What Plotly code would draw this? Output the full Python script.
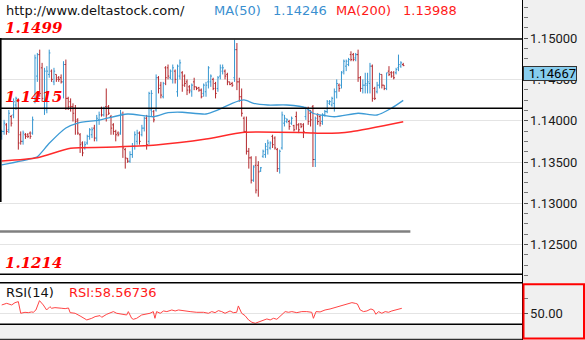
import plotly.graph_objects as go

# ---------------- price bars (O / H / L / C) ----------------
open_ = [1.1381, 1.1387, 1.1395, 1.1389, 1.1405, 1.1407, 1.1419, 1.1425, 1.1383, 1.1375,
         1.1383, 1.1383, 1.1385, 1.1385, 1.1423, 1.1454, 1.1480, 1.1464, 1.1415, 1.1413,
         1.1456, 1.1460, 1.1447, 1.1456, 1.1452, 1.1452, 1.1447, 1.1468, 1.1427, 1.1423,
         1.1417, 1.1415, 1.1401, 1.1383, 1.1373, 1.1367, 1.1373, 1.1381, 1.1383, 1.1391,
         1.1379, 1.1401, 1.1415, 1.1407, 1.1417, 1.1417, 1.1405, 1.1395, 1.1387, 1.1385,
         1.1385, 1.1407, 1.1365, 1.1354, 1.1351, 1.1359, 1.1369, 1.1375, 1.1385, 1.1383,
         1.1391, 1.1403, 1.1375, 1.1413, 1.1411, 1.1413, 1.1452, 1.1443, 1.1429, 1.1464,
         1.1464, 1.1452, 1.1450, 1.1460, 1.1435, 1.1454, 1.1458, 1.1454, 1.1447, 1.1441,
         1.1435, 1.1447, 1.1441, 1.1440, 1.1437, 1.1433, 1.1435, 1.1447, 1.1447, 1.1450,
         1.1445, 1.1439, 1.1454, 1.1460, 1.1460, 1.1456, 1.1447, 1.1445, 1.1452, 1.1486,
         1.1447, 1.1429, 1.1403, 1.1387, 1.1363, 1.1355, 1.1328, 1.1346, 1.1346, 1.1339,
         1.1357, 1.1359, 1.1365, 1.1367, 1.1381, 1.1379, 1.1365, 1.1342, 1.1367, 1.1397,
         1.1399, 1.1399, 1.1397, 1.1394, 1.1405, 1.1395, 1.1396, 1.1395, 1.1405, 1.1415,
         1.1409, 1.1417, 1.1353, 1.1407, 1.1405, 1.1399, 1.1407, 1.1411, 1.1421, 1.1419,
         1.1421, 1.1435, 1.1443, 1.1443, 1.1460, 1.1466, 1.1468, 1.1480, 1.1480, 1.1476,
         1.1480, 1.1452, 1.1439, 1.1443, 1.1443, 1.1445, 1.1466, 1.1439, 1.1435, 1.1443,
         1.1456, 1.1443, 1.1439, 1.1460, 1.1458, 1.1458, 1.1458, 1.1464, 1.1466, 1.1468]
high = [1.1389, 1.1401, 1.1397, 1.1413, 1.1407, 1.1427, 1.1429, 1.1427, 1.1387, 1.1388,
        1.1385, 1.1385, 1.1387, 1.1405, 1.1480, 1.1482, 1.1486, 1.1470, 1.1464, 1.1466,
        1.1486, 1.1462, 1.1464, 1.1456, 1.1454, 1.1456, 1.1472, 1.1474, 1.1429, 1.1427,
        1.1421, 1.1419, 1.1403, 1.1385, 1.1375, 1.1375, 1.1383, 1.1391, 1.1392, 1.1395,
        1.1407, 1.1411, 1.1417, 1.1417, 1.1439, 1.1419, 1.1407, 1.1397, 1.1389, 1.1387,
        1.1413, 1.1411, 1.1367, 1.1355, 1.1363, 1.1373, 1.1387, 1.1389, 1.1387, 1.1395,
        1.1405, 1.1407, 1.1435, 1.1437, 1.1413, 1.1456, 1.1454, 1.1447, 1.1447, 1.1466,
        1.1468, 1.1462, 1.1468, 1.1462, 1.1468, 1.1474, 1.1460, 1.1456, 1.1450, 1.1443,
        1.1445, 1.1452, 1.1441, 1.1441, 1.1439, 1.1445, 1.1447, 1.1466, 1.1456, 1.1452,
        1.1447, 1.1454, 1.1468, 1.1468, 1.1462, 1.1458, 1.1447, 1.1447, 1.1498, 1.1494,
        1.1452, 1.1439, 1.1405, 1.1405, 1.1367, 1.1357, 1.1346, 1.1357, 1.1351, 1.1344,
        1.1365, 1.1373, 1.1377, 1.1375, 1.1383, 1.1381, 1.1367, 1.1365, 1.1411, 1.1407,
        1.1403, 1.1401, 1.1405, 1.1395, 1.1411, 1.1397, 1.1397, 1.1397, 1.1417, 1.1417,
        1.1413, 1.1419, 1.1405, 1.1409, 1.1407, 1.1409, 1.1413, 1.1425, 1.1425, 1.1429,
        1.1439, 1.1450, 1.1445, 1.1460, 1.1474, 1.1474, 1.1476, 1.1484, 1.1482, 1.1482,
        1.1486, 1.1454, 1.1450, 1.1458, 1.1458, 1.1470, 1.1468, 1.1441, 1.1447, 1.1458,
        1.1456, 1.1443, 1.1458, 1.1466, 1.1460, 1.1460, 1.1464, 1.1480, 1.1472, 1.1470]
low = [1.1377, 1.1383, 1.1383, 1.1385, 1.1393, 1.1403, 1.1413, 1.1365, 1.1371, 1.1371,
       1.1378, 1.1379, 1.1378, 1.1383, 1.1421, 1.1447, 1.1429, 1.1423, 1.1407, 1.1409,
       1.1452, 1.1447, 1.1443, 1.1447, 1.1447, 1.1445, 1.1427, 1.1413, 1.1413, 1.1411,
       1.1399, 1.1383, 1.1383, 1.1361, 1.1357, 1.1365, 1.1371, 1.1377, 1.1379, 1.1375,
       1.1375, 1.1395, 1.1405, 1.1405, 1.1399, 1.1407, 1.1383, 1.1383, 1.1375, 1.1381,
       1.1383, 1.1355, 1.1342, 1.1349, 1.1349, 1.1355, 1.1365, 1.1371, 1.1371, 1.1381,
       1.1387, 1.1365, 1.1371, 1.1405, 1.1398, 1.1411, 1.1433, 1.1427, 1.1427, 1.1443,
       1.1450, 1.1450, 1.1445, 1.1445, 1.1429, 1.1450, 1.1435, 1.1441, 1.1431, 1.1433,
       1.1429, 1.1437, 1.1437, 1.1435, 1.1427, 1.1429, 1.1429, 1.1439, 1.1441, 1.1437,
       1.1427, 1.1435, 1.1450, 1.1456, 1.1450, 1.1443, 1.1443, 1.1441, 1.1447, 1.1437,
       1.1423, 1.1405, 1.1385, 1.1359, 1.1342, 1.1324, 1.1326, 1.1312, 1.1308, 1.1338,
       1.1355, 1.1355, 1.1359, 1.1365, 1.1367, 1.1365, 1.1338, 1.1336, 1.1365, 1.1393,
       1.1397, 1.1389, 1.1395, 1.1387, 1.1389, 1.1385, 1.1391, 1.1379, 1.1401, 1.1395,
       1.1393, 1.1344, 1.1344, 1.1395, 1.1393, 1.1395, 1.1405, 1.1409, 1.1419, 1.1417,
       1.1411, 1.1427, 1.1435, 1.1439, 1.1456, 1.1460, 1.1466, 1.1472, 1.1472, 1.1472,
       1.1447, 1.1435, 1.1433, 1.1433, 1.1433, 1.1433, 1.1423, 1.1425, 1.1433, 1.1439,
       1.1439, 1.1437, 1.1437, 1.1454, 1.1452, 1.1450, 1.1456, 1.1460, 1.1464, 1.1466]
close = [1.1387, 1.1397, 1.1387, 1.1409, 1.1397, 1.1423, 1.1427, 1.1373, 1.1375, 1.1385,
         1.1381, 1.1381, 1.1381, 1.1401, 1.1476, 1.1480, 1.1433, 1.1427, 1.1460, 1.1460,
         1.1482, 1.1450, 1.1460, 1.1450, 1.1450, 1.1447, 1.1468, 1.1427, 1.1417, 1.1417,
         1.1409, 1.1399, 1.1385, 1.1371, 1.1361, 1.1371, 1.1381, 1.1389, 1.1389, 1.1379,
         1.1403, 1.1407, 1.1407, 1.1415, 1.1407, 1.1409, 1.1391, 1.1387, 1.1383, 1.1383,
         1.1409, 1.1367, 1.1355, 1.1351, 1.1359, 1.1369, 1.1383, 1.1385, 1.1375, 1.1391,
         1.1403, 1.1371, 1.1433, 1.1433, 1.1401, 1.1452, 1.1439, 1.1431, 1.1445, 1.1452,
         1.1454, 1.1460, 1.1464, 1.1450, 1.1466, 1.1470, 1.1443, 1.1445, 1.1437, 1.1437,
         1.1443, 1.1441, 1.1439, 1.1437, 1.1429, 1.1443, 1.1443, 1.1464, 1.1454, 1.1439,
         1.1433, 1.1452, 1.1464, 1.1464, 1.1454, 1.1447, 1.1444, 1.1443, 1.1486, 1.1447,
         1.1429, 1.1409, 1.1387, 1.1363, 1.1355, 1.1328, 1.1344, 1.1316, 1.1338, 1.1343,
         1.1363, 1.1369, 1.1373, 1.1373, 1.1371, 1.1367, 1.1342, 1.1363, 1.1407, 1.1403,
         1.1401, 1.1393, 1.1403, 1.1389, 1.1395, 1.1389, 1.1393, 1.1387, 1.1415, 1.1399,
         1.1401, 1.1353, 1.1403, 1.1399, 1.1397, 1.1407, 1.1411, 1.1423, 1.1423, 1.1427,
         1.1435, 1.1445, 1.1439, 1.1458, 1.1472, 1.1472, 1.1474, 1.1474, 1.1474, 1.1480,
         1.1452, 1.1439, 1.1443, 1.1445, 1.1447, 1.1466, 1.1427, 1.1427, 1.1443, 1.1456,
         1.1443, 1.1439, 1.1458, 1.1456, 1.1454, 1.1452, 1.1462, 1.1468, 1.1470, 1.14667]
bar_index = list(range(len(close)))

# ---------------- moving averages (sampled at bar positions) ----------------
ma50_x = [0, 13, 15, 20, 27, 32, 41, 53, 64, 70, 76, 86, 91, 97, 102, 106, 112, 120,
          128, 131, 140, 150, 158, 164, 169]
ma50 = [1.13464, 1.13545, 1.13564, 1.13726, 1.13912, 1.13972, 1.14008, 1.14081, 1.14048,
        1.14097, 1.14102, 1.14081, 1.14130, 1.14211, 1.14251, 1.14211, 1.14190, 1.14190,
        1.14157, 1.14090, 1.14048, 1.14090, 1.14069, 1.14150, 1.14246]
ma200_x = [0, 15, 29, 44, 65, 86, 102, 128, 136, 147, 169]
ma200 = [1.13512, 1.13552, 1.13666, 1.13678, 1.13706, 1.13778, 1.13860, 1.13855,
         1.13847, 1.13867, 1.13988]

# ---------------- RSI(14) ----------------
rsi_x = [0, 2.1, 4.2, 5.6, 7.0, 8.0, 9.8, 11.2, 12.6, 13.3, 14.4, 15.9, 17.5, 18.9, 20.3,
         21.0, 22.4, 23.8, 25.3, 26.7, 28.1, 28.8, 30.9, 33.0, 35.8, 37.9, 39.3, 41.4, 42.1,
         44.2, 45.6, 47.0, 48.4, 50.5, 52.6, 53.3, 54.7, 55.4, 56.8, 58.9, 61.0, 62.4, 63.8,
         64.5, 65.2, 66.7, 68.1, 69.5, 71.6, 73.0, 74.4, 75.8, 77.2, 79.3, 82.1, 84.9, 87.0,
         88.4, 89.8, 91.2, 92.6, 94.0, 96.1, 97.5, 98.9, 99.6, 101.0, 102.4, 103.9, 105.3,
         106.7, 108.1, 110.2, 111.6, 113.0, 114.4, 115.8, 117.9, 119.3, 120.7, 122.1, 124.2,
         126.3, 128.4, 130.5, 131.2, 132.3, 134.0, 136.1, 138.2, 140.3, 141.7, 143.8, 146.0,
         147.4, 148.8, 149.7, 150.9, 152.3, 153.7, 155.4, 156.5, 157.5, 158.6, 160.0, 161.4,
         162.8, 164.2, 165.6, 167.0, 168.4]
rsi = [64.3, 67.1, 64.3, 68.3, 70.0, 50.0, 51.7, 51.1, 52.3, 51.7, 55.7, 71.7, 64.3, 55.7,
       61.4, 58.6, 59.7, 58.6, 58.6, 58.0, 59.1, 51.1, 50.0, 45.4, 38.6, 41.4, 44.3, 46.0,
       43.1, 48.3, 50.0, 52.9, 50.0, 48.3, 47.1, 52.9, 41.4, 39.7, 41.4, 47.1, 48.3, 50.0,
       52.9, 41.4, 52.9, 50.0, 54.0, 52.9, 55.7, 54.0, 55.7, 54.6, 54.6, 52.9, 51.7, 51.7,
       50.0, 52.9, 51.1, 54.6, 52.9, 50.0, 54.0, 51.1, 51.7, 62.6, 50.0, 46.0, 38.6, 34.6,
       32.9, 35.1, 38.6, 40.3, 38.6, 41.4, 39.7, 47.1, 52.9, 51.7, 52.9, 51.1, 52.9, 52.9,
       51.7, 41.4, 52.9, 52.3, 55.7, 57.4, 59.7, 61.4, 64.3, 67.1, 68.3, 67.1, 66.0, 55.7,
       52.9, 54.0, 57.4, 55.7, 48.3, 52.9, 50.0, 52.9, 51.7, 54.0, 55.7, 56.9, 58.56736]

# ---------------- levels and labels ----------------
levels = [1.1499, 1.1415, 1.1214]
gray_level = 1.1266
gray_level_end = 172
price_ticks = [1.125, 1.13, 1.135, 1.14, 1.145, 1.15]
last_price = 1.14667
ma50_last = 1.14246
ma200_last = 1.13988
rsi_last = 58.56736

W, H = 585, 340
BLUE_BAR = "#3596d0"
RED_BAR = "#b3282d"


def fx(px):
    return px / W


def fy(py):
    return 1 - py / H


PLOT_R = fx(522.5)
X_RANGE = [-0.72, 219.2]

fig = go.Figure()
fig.add_trace(go.Ohlc(
    x=bar_index, open=open_, high=high, low=low, close=close,
    increasing=dict(line=dict(color=BLUE_BAR, width=1)),
    decreasing=dict(line=dict(color=RED_BAR, width=1)),
    tickwidth=0.5, hoverinfo="skip", xaxis="x", yaxis="y"))
fig.add_trace(go.Scatter(
    x=ma50_x, y=ma50, mode="lines", hoverinfo="skip",
    line=dict(color="#3d9bd6", width=1.3, shape="spline", smoothing=0.6),
    xaxis="x", yaxis="y"))
fig.add_trace(go.Scatter(
    x=ma200_x, y=ma200, mode="lines", hoverinfo="skip",
    line=dict(color="#ff2a2a", width=1.5, shape="spline", smoothing=0.6),
    xaxis="x", yaxis="y"))
fig.add_trace(go.Scatter(
    x=rsi_x, y=rsi, mode="lines", hoverinfo="skip",
    line=dict(color="#ff4444", width=1), xaxis="x2", yaxis="y2"))

tick_font = dict(family="Roboto", size=13, color="#1a1a1a")

shapes = [
    # grey scale panel on the right and strip under the RSI pane
    dict(type="rect", xref="paper", yref="paper", x0=PLOT_R, x1=1, y0=0, y1=1,
         fillcolor="#f0f0f0", line=dict(width=0), layer="below"),
    dict(type="rect", xref="paper", yref="paper", x0=0, x1=PLOT_R, y0=0, y1=fy(324.3),
         fillcolor="#f0f0f0", line=dict(width=0), layer="below"),
    # separators
    dict(type="line", xref="paper", yref="paper", x0=PLOT_R, x1=PLOT_R, y0=0, y1=1,
         line=dict(color="#000", width=1)),
    dict(type="line", xref="paper", yref="paper", x0=0, x1=PLOT_R, y0=fy(282.7), y1=fy(282.7),
         line=dict(color="#000", width=1.5)),
    dict(type="line", xref="paper", yref="paper", x0=0, x1=PLOT_R, y0=fy(324.3), y1=fy(324.3),
         line=dict(color="#000", width=1.5)),
    dict(type="line", xref="paper", yref="paper", x0=0, x1=PLOT_R, y0=fy(339.3), y1=fy(339.3),
         line=dict(color="#000", width=1)),
    dict(type="line", xref="paper", yref="paper", x0=fx(0.8), x1=fx(0.8), y0=fy(38), y1=fy(202),
         line=dict(color="#000", width=1.6)),
    # horizontal gray line
    dict(type="line", xref="x", yref="y", x0=X_RANGE[0], x1=gray_level_end,
         y0=gray_level, y1=gray_level, line=dict(color="#808080", width=2.5)),
    # red frame round the RSI scale
    dict(type="rect", xref="paper", yref="paper", x0=fx(523.5), x1=fx(584), y0=fy(338.5),
         y1=fy(284.2), line=dict(color="#ff0000", width=2)),
]
for lv in levels:
    shapes.append(dict(type="line", xref="paper", yref="y", x0=0, x1=PLOT_R, y0=lv, y1=lv,
                       line=dict(color="#000", width=1.5)))

annotations = []
for lv in levels:
    annotations.append(dict(
        xref="paper", yref="y", x=fx(3), y=lv, xanchor="left", yanchor="middle", yshift=11,
        text=f"<b><i>{lv:.4f}</i></b>", showarrow=False,
        font=dict(family="DejaVu Serif", size=15, color="#ff0000")))

title_font = dict(family="DejaVu Sans", size=13)
title_y = fy(10)
for px, txt, col in [(4, "http://www.deltastock.com/", "#111111"),
                     (212, "MA(50)", "#3a8fd0"),
                     (271, f"{ma50_last:.5f}", "#3a8fd0"),
                     (334, "MA(200)", "#ff1a1a"),
                     (401, f"{ma200_last:.5f}", "#ff1a1a")]:
    annotations.append(dict(xref="paper", yref="paper", x=fx(px), y=title_y,
                            xanchor="left", yanchor="middle", text=txt, showarrow=False,
                            font=dict(title_font, color=col)))

rsi_y = fy(292.5)
annotations.append(dict(xref="paper", yref="paper", x=fx(4), y=rsi_y, xanchor="left",
                        yanchor="middle", text="RSI(14)", showarrow=False,
                        font=dict(title_font, color="#111111")))
annotations.append(dict(xref="paper", yref="paper", x=fx(66.5), y=rsi_y, xanchor="left",
                        yanchor="middle", text=f"RSI:{rsi_last:.5f}", showarrow=False,
                        font=dict(title_font, color="#ff1a1a")))

# last price tag on the scale
annotations.append(dict(
    xref="paper", yref="y", x=fx(522.5), y=last_price, xanchor="left", yanchor="top",
    text=f"{last_price:.5f}", showarrow=False, align="right", width=52, height=13,
    bgcolor="#87cdee", bordercolor="#333333", borderwidth=1, borderpad=0,
    font=dict(family="Roboto", size=13, color="#000")))

fig.update_layout(
    width=W, height=H, margin=dict(l=0, r=0, t=0, b=0),
    paper_bgcolor="white", plot_bgcolor="white", showlegend=False, hovermode=False,
    xaxis=dict(domain=[0, PLOT_R], range=X_RANGE, visible=False, anchor="y",
               rangeslider=dict(visible=False)),
    xaxis2=dict(domain=[0, PLOT_R], range=X_RANGE, visible=False, anchor="y2"),
    yaxis=dict(domain=[fy(282.7), 1], range=[1.12039, 1.15461], side="right", anchor="x",
               tickvals=price_ticks, ticktext=[f"{v:.5f}" for v in price_ticks],
               ticks="outside", ticklen=4, tickcolor="#555", tickfont=tick_font,
               gridcolor="#e4e4e4", gridwidth=1, zeroline=False, showline=False,
               minor=dict(dtick=0.00125, tick0=1.125, ticks="outside", ticklen=4,
                          tickcolor="#777", showgrid=False)),
    yaxis2=dict(domain=[fy(324.3), fy(282.7)], range=[31.1, 102.5], side="right",
                anchor="x2", tickvals=[50], ticktext=["50.00"], ticks="outside", ticklen=4,
                tickcolor="#555", tickfont=tick_font, gridcolor="#e4e4e4", zeroline=False,
                showline=False,
                minor=dict(tickvals=[75], ticks="outside", ticklen=4, tickcolor="#777",
                           showgrid=False)),
    shapes=shapes, annotations=annotations,
)

fig.write_html("out.html")
